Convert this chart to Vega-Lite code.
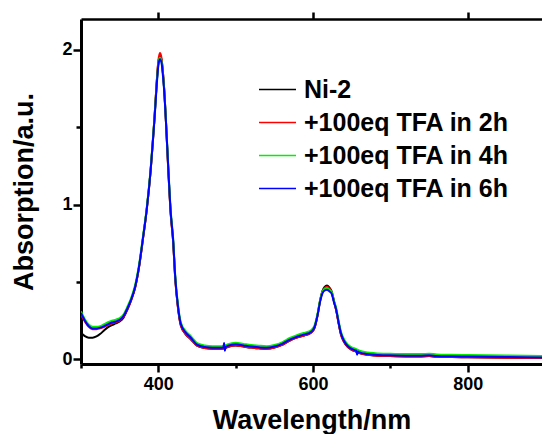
{
"$schema": "https://vega.github.io/schema/vega-lite/v6.json",
"width": 461, "height": 345,
"autosize": {"type": "none"},
"padding": {"left": 81, "top": 19, "right": 0, "bottom": 70},
"background": "white",
"config": {"view": {"stroke": null}, "font": "Liberation Sans"},
"data": {"values": [
{"s":"Ni-2","w":300,"a":0.17},{"s":"Ni-2","w":305,"a":0.15},{"s":"Ni-2","w":310,"a":0.14},{"s":"Ni-2","w":315,"a":0.14},{"s":"Ni-2","w":320,"a":0.148},{"s":"Ni-2","w":325,"a":0.165},{"s":"Ni-2","w":330,"a":0.188},{"s":"Ni-2","w":335,"a":0.208},{"s":"Ni-2","w":340,"a":0.222},{"s":"Ni-2","w":345,"a":0.232},{"s":"Ni-2","w":350,"a":0.245},{"s":"Ni-2","w":355,"a":0.27},{"s":"Ni-2","w":360,"a":0.322},{"s":"Ni-2","w":365,"a":0.385},{"s":"Ni-2","w":370,"a":0.465},{"s":"Ni-2","w":375,"a":0.595},{"s":"Ni-2","w":380,"a":0.775},{"s":"Ni-2","w":385,"a":0.97},{"s":"Ni-2","w":390,"a":1.22},{"s":"Ni-2","w":395,"a":1.56},{"s":"Ni-2","w":398,"a":1.8},{"s":"Ni-2","w":400,"a":1.92},{"s":"Ni-2","w":402,"a":1.96},{"s":"Ni-2","w":404,"a":1.94},{"s":"Ni-2","w":406,"a":1.85},{"s":"Ni-2","w":408,"a":1.71},{"s":"Ni-2","w":410,"a":1.52},{"s":"Ni-2","w":413,"a":1.21},{"s":"Ni-2","w":416,"a":0.94},{"s":"Ni-2","w":419,"a":0.77},{"s":"Ni-2","w":422,"a":0.51},{"s":"Ni-2","w":425,"a":0.35},{"s":"Ni-2","w":429,"a":0.22},{"s":"Ni-2","w":435,"a":0.165},{"s":"Ni-2","w":442,"a":0.13},{"s":"Ni-2","w":450,"a":0.088},{"s":"Ni-2","w":460,"a":0.073},{"s":"Ni-2","w":470,"a":0.068},{"s":"Ni-2","w":480,"a":0.068},{"s":"Ni-2","w":484,"a":0.07},{"s":"Ni-2","w":495,"a":0.088},{"s":"Ni-2","w":500,"a":0.09},{"s":"Ni-2","w":510,"a":0.083},{"s":"Ni-2","w":520,"a":0.076},{"s":"Ni-2","w":530,"a":0.071},{"s":"Ni-2","w":540,"a":0.068},{"s":"Ni-2","w":550,"a":0.076},{"s":"Ni-2","w":560,"a":0.094},{"s":"Ni-2","w":570,"a":0.122},{"s":"Ni-2","w":580,"a":0.142},{"s":"Ni-2","w":590,"a":0.157},{"s":"Ni-2","w":595,"a":0.165},{"s":"Ni-2","w":598,"a":0.175},{"s":"Ni-2","w":602,"a":0.205},{"s":"Ni-2","w":606,"a":0.29},{"s":"Ni-2","w":609,"a":0.378},{"s":"Ni-2","w":612,"a":0.44},{"s":"Ni-2","w":615,"a":0.468},{"s":"Ni-2","w":618,"a":0.477},{"s":"Ni-2","w":621,"a":0.465},{"s":"Ni-2","w":624,"a":0.44},{"s":"Ni-2","w":627,"a":0.378},{"s":"Ni-2","w":630,"a":0.315},{"s":"Ni-2","w":633,"a":0.235},{"s":"Ni-2","w":636,"a":0.163},{"s":"Ni-2","w":640,"a":0.113},{"s":"Ni-2","w":645,"a":0.079},{"s":"Ni-2","w":650,"a":0.062},{"s":"Ni-2","w":655,"a":0.052},{"s":"Ni-2","w":660,"a":0.04},{"s":"Ni-2","w":670,"a":0.03},{"s":"Ni-2","w":680,"a":0.025},{"s":"Ni-2","w":700,"a":0.021},{"s":"Ni-2","w":720,"a":0.019},{"s":"Ni-2","w":740,"a":0.019},{"s":"Ni-2","w":750,"a":0.021},{"s":"Ni-2","w":760,"a":0.017},{"s":"Ni-2","w":780,"a":0.015},{"s":"Ni-2","w":800,"a":0.013},{"s":"Ni-2","w":850,"a":0.01},{"s":"Ni-2","w":900,"a":0.008},
{"s":"+100eq TFA in 2h","w":300,"a":0.29},{"s":"+100eq TFA in 2h","w":305,"a":0.245},{"s":"+100eq TFA in 2h","w":310,"a":0.21},{"s":"+100eq TFA in 2h","w":315,"a":0.195},{"s":"+100eq TFA in 2h","w":320,"a":0.195},{"s":"+100eq TFA in 2h","w":325,"a":0.2},{"s":"+100eq TFA in 2h","w":330,"a":0.21},{"s":"+100eq TFA in 2h","w":335,"a":0.222},{"s":"+100eq TFA in 2h","w":340,"a":0.232},{"s":"+100eq TFA in 2h","w":345,"a":0.24},{"s":"+100eq TFA in 2h","w":350,"a":0.25},{"s":"+100eq TFA in 2h","w":355,"a":0.275},{"s":"+100eq TFA in 2h","w":360,"a":0.325},{"s":"+100eq TFA in 2h","w":365,"a":0.385},{"s":"+100eq TFA in 2h","w":370,"a":0.465},{"s":"+100eq TFA in 2h","w":375,"a":0.595},{"s":"+100eq TFA in 2h","w":380,"a":0.775},{"s":"+100eq TFA in 2h","w":385,"a":0.97},{"s":"+100eq TFA in 2h","w":390,"a":1.22},{"s":"+100eq TFA in 2h","w":395,"a":1.56},{"s":"+100eq TFA in 2h","w":398,"a":1.8},{"s":"+100eq TFA in 2h","w":400,"a":1.93},{"s":"+100eq TFA in 2h","w":402,"a":1.98},{"s":"+100eq TFA in 2h","w":404,"a":1.95},{"s":"+100eq TFA in 2h","w":406,"a":1.85},{"s":"+100eq TFA in 2h","w":408,"a":1.71},{"s":"+100eq TFA in 2h","w":410,"a":1.52},{"s":"+100eq TFA in 2h","w":413,"a":1.21},{"s":"+100eq TFA in 2h","w":416,"a":0.94},{"s":"+100eq TFA in 2h","w":419,"a":0.77},{"s":"+100eq TFA in 2h","w":422,"a":0.51},{"s":"+100eq TFA in 2h","w":425,"a":0.35},{"s":"+100eq TFA in 2h","w":429,"a":0.22},{"s":"+100eq TFA in 2h","w":435,"a":0.165},{"s":"+100eq TFA in 2h","w":442,"a":0.13},{"s":"+100eq TFA in 2h","w":450,"a":0.088},{"s":"+100eq TFA in 2h","w":460,"a":0.073},{"s":"+100eq TFA in 2h","w":470,"a":0.068},{"s":"+100eq TFA in 2h","w":480,"a":0.068},{"s":"+100eq TFA in 2h","w":484,"a":0.07},{"s":"+100eq TFA in 2h","w":495,"a":0.088},{"s":"+100eq TFA in 2h","w":500,"a":0.09},{"s":"+100eq TFA in 2h","w":510,"a":0.083},{"s":"+100eq TFA in 2h","w":520,"a":0.076},{"s":"+100eq TFA in 2h","w":530,"a":0.071},{"s":"+100eq TFA in 2h","w":540,"a":0.068},{"s":"+100eq TFA in 2h","w":550,"a":0.076},{"s":"+100eq TFA in 2h","w":560,"a":0.094},{"s":"+100eq TFA in 2h","w":570,"a":0.122},{"s":"+100eq TFA in 2h","w":580,"a":0.142},{"s":"+100eq TFA in 2h","w":590,"a":0.157},{"s":"+100eq TFA in 2h","w":595,"a":0.165},{"s":"+100eq TFA in 2h","w":598,"a":0.175},{"s":"+100eq TFA in 2h","w":602,"a":0.205},{"s":"+100eq TFA in 2h","w":606,"a":0.29},{"s":"+100eq TFA in 2h","w":609,"a":0.375},{"s":"+100eq TFA in 2h","w":612,"a":0.435},{"s":"+100eq TFA in 2h","w":615,"a":0.462},{"s":"+100eq TFA in 2h","w":618,"a":0.47},{"s":"+100eq TFA in 2h","w":621,"a":0.458},{"s":"+100eq TFA in 2h","w":624,"a":0.435},{"s":"+100eq TFA in 2h","w":627,"a":0.375},{"s":"+100eq TFA in 2h","w":630,"a":0.315},{"s":"+100eq TFA in 2h","w":633,"a":0.235},{"s":"+100eq TFA in 2h","w":636,"a":0.163},{"s":"+100eq TFA in 2h","w":640,"a":0.113},{"s":"+100eq TFA in 2h","w":645,"a":0.079},{"s":"+100eq TFA in 2h","w":650,"a":0.062},{"s":"+100eq TFA in 2h","w":655,"a":0.052},{"s":"+100eq TFA in 2h","w":660,"a":0.04},{"s":"+100eq TFA in 2h","w":670,"a":0.03},{"s":"+100eq TFA in 2h","w":680,"a":0.025},{"s":"+100eq TFA in 2h","w":700,"a":0.021},{"s":"+100eq TFA in 2h","w":720,"a":0.019},{"s":"+100eq TFA in 2h","w":740,"a":0.019},{"s":"+100eq TFA in 2h","w":750,"a":0.021},{"s":"+100eq TFA in 2h","w":760,"a":0.017},{"s":"+100eq TFA in 2h","w":780,"a":0.015},{"s":"+100eq TFA in 2h","w":800,"a":0.013},{"s":"+100eq TFA in 2h","w":850,"a":0.01},{"s":"+100eq TFA in 2h","w":900,"a":0.008},
{"s":"+100eq TFA in 4h","w":300,"a":0.31},{"s":"+100eq TFA in 4h","w":305,"a":0.26},{"s":"+100eq TFA in 4h","w":310,"a":0.225},{"s":"+100eq TFA in 4h","w":315,"a":0.21},{"s":"+100eq TFA in 4h","w":320,"a":0.21},{"s":"+100eq TFA in 4h","w":325,"a":0.215},{"s":"+100eq TFA in 4h","w":330,"a":0.227},{"s":"+100eq TFA in 4h","w":335,"a":0.24},{"s":"+100eq TFA in 4h","w":340,"a":0.25},{"s":"+100eq TFA in 4h","w":345,"a":0.257},{"s":"+100eq TFA in 4h","w":350,"a":0.266},{"s":"+100eq TFA in 4h","w":355,"a":0.29},{"s":"+100eq TFA in 4h","w":360,"a":0.34},{"s":"+100eq TFA in 4h","w":365,"a":0.4},{"s":"+100eq TFA in 4h","w":370,"a":0.48},{"s":"+100eq TFA in 4h","w":375,"a":0.61},{"s":"+100eq TFA in 4h","w":380,"a":0.79},{"s":"+100eq TFA in 4h","w":385,"a":0.98},{"s":"+100eq TFA in 4h","w":390,"a":1.23},{"s":"+100eq TFA in 4h","w":395,"a":1.56},{"s":"+100eq TFA in 4h","w":398,"a":1.79},{"s":"+100eq TFA in 4h","w":400,"a":1.91},{"s":"+100eq TFA in 4h","w":402,"a":1.95},{"s":"+100eq TFA in 4h","w":404,"a":1.93},{"s":"+100eq TFA in 4h","w":406,"a":1.84},{"s":"+100eq TFA in 4h","w":408,"a":1.71},{"s":"+100eq TFA in 4h","w":410,"a":1.53},{"s":"+100eq TFA in 4h","w":413,"a":1.23},{"s":"+100eq TFA in 4h","w":416,"a":0.96},{"s":"+100eq TFA in 4h","w":419,"a":0.79},{"s":"+100eq TFA in 4h","w":422,"a":0.53},{"s":"+100eq TFA in 4h","w":425,"a":0.37},{"s":"+100eq TFA in 4h","w":429,"a":0.24},{"s":"+100eq TFA in 4h","w":435,"a":0.185},{"s":"+100eq TFA in 4h","w":442,"a":0.15},{"s":"+100eq TFA in 4h","w":450,"a":0.105},{"s":"+100eq TFA in 4h","w":460,"a":0.09},{"s":"+100eq TFA in 4h","w":470,"a":0.085},{"s":"+100eq TFA in 4h","w":480,"a":0.085},{"s":"+100eq TFA in 4h","w":484,"a":0.087},{"s":"+100eq TFA in 4h","w":495,"a":0.105},{"s":"+100eq TFA in 4h","w":500,"a":0.107},{"s":"+100eq TFA in 4h","w":510,"a":0.1},{"s":"+100eq TFA in 4h","w":520,"a":0.093},{"s":"+100eq TFA in 4h","w":530,"a":0.088},{"s":"+100eq TFA in 4h","w":540,"a":0.085},{"s":"+100eq TFA in 4h","w":550,"a":0.093},{"s":"+100eq TFA in 4h","w":560,"a":0.11},{"s":"+100eq TFA in 4h","w":570,"a":0.138},{"s":"+100eq TFA in 4h","w":580,"a":0.158},{"s":"+100eq TFA in 4h","w":590,"a":0.173},{"s":"+100eq TFA in 4h","w":595,"a":0.18},{"s":"+100eq TFA in 4h","w":598,"a":0.19},{"s":"+100eq TFA in 4h","w":602,"a":0.22},{"s":"+100eq TFA in 4h","w":606,"a":0.3},{"s":"+100eq TFA in 4h","w":609,"a":0.38},{"s":"+100eq TFA in 4h","w":612,"a":0.435},{"s":"+100eq TFA in 4h","w":615,"a":0.455},{"s":"+100eq TFA in 4h","w":618,"a":0.46},{"s":"+100eq TFA in 4h","w":621,"a":0.45},{"s":"+100eq TFA in 4h","w":624,"a":0.435},{"s":"+100eq TFA in 4h","w":627,"a":0.38},{"s":"+100eq TFA in 4h","w":630,"a":0.33},{"s":"+100eq TFA in 4h","w":633,"a":0.25},{"s":"+100eq TFA in 4h","w":636,"a":0.18},{"s":"+100eq TFA in 4h","w":640,"a":0.13},{"s":"+100eq TFA in 4h","w":645,"a":0.095},{"s":"+100eq TFA in 4h","w":650,"a":0.078},{"s":"+100eq TFA in 4h","w":655,"a":0.068},{"s":"+100eq TFA in 4h","w":660,"a":0.056},{"s":"+100eq TFA in 4h","w":670,"a":0.045},{"s":"+100eq TFA in 4h","w":680,"a":0.04},{"s":"+100eq TFA in 4h","w":700,"a":0.036},{"s":"+100eq TFA in 4h","w":720,"a":0.034},{"s":"+100eq TFA in 4h","w":740,"a":0.034},{"s":"+100eq TFA in 4h","w":750,"a":0.036},{"s":"+100eq TFA in 4h","w":760,"a":0.032},{"s":"+100eq TFA in 4h","w":780,"a":0.03},{"s":"+100eq TFA in 4h","w":800,"a":0.028},{"s":"+100eq TFA in 4h","w":850,"a":0.025},{"s":"+100eq TFA in 4h","w":900,"a":0.022},
{"s":"+100eq TFA in 6h","w":300,"a":0.3},{"s":"+100eq TFA in 6h","w":305,"a":0.25},{"s":"+100eq TFA in 6h","w":310,"a":0.215},{"s":"+100eq TFA in 6h","w":315,"a":0.2},{"s":"+100eq TFA in 6h","w":320,"a":0.2},{"s":"+100eq TFA in 6h","w":325,"a":0.205},{"s":"+100eq TFA in 6h","w":330,"a":0.215},{"s":"+100eq TFA in 6h","w":335,"a":0.228},{"s":"+100eq TFA in 6h","w":340,"a":0.238},{"s":"+100eq TFA in 6h","w":345,"a":0.245},{"s":"+100eq TFA in 6h","w":350,"a":0.255},{"s":"+100eq TFA in 6h","w":355,"a":0.28},{"s":"+100eq TFA in 6h","w":360,"a":0.33},{"s":"+100eq TFA in 6h","w":365,"a":0.39},{"s":"+100eq TFA in 6h","w":370,"a":0.47},{"s":"+100eq TFA in 6h","w":375,"a":0.6},{"s":"+100eq TFA in 6h","w":380,"a":0.78},{"s":"+100eq TFA in 6h","w":385,"a":0.97},{"s":"+100eq TFA in 6h","w":390,"a":1.22},{"s":"+100eq TFA in 6h","w":395,"a":1.55},{"s":"+100eq TFA in 6h","w":398,"a":1.78},{"s":"+100eq TFA in 6h","w":400,"a":1.9},{"s":"+100eq TFA in 6h","w":402,"a":1.94},{"s":"+100eq TFA in 6h","w":404,"a":1.92},{"s":"+100eq TFA in 6h","w":406,"a":1.83},{"s":"+100eq TFA in 6h","w":408,"a":1.7},{"s":"+100eq TFA in 6h","w":410,"a":1.52},{"s":"+100eq TFA in 6h","w":413,"a":1.22},{"s":"+100eq TFA in 6h","w":416,"a":0.95},{"s":"+100eq TFA in 6h","w":419,"a":0.78},{"s":"+100eq TFA in 6h","w":422,"a":0.52},{"s":"+100eq TFA in 6h","w":425,"a":0.36},{"s":"+100eq TFA in 6h","w":429,"a":0.23},{"s":"+100eq TFA in 6h","w":435,"a":0.175},{"s":"+100eq TFA in 6h","w":442,"a":0.14},{"s":"+100eq TFA in 6h","w":450,"a":0.095},{"s":"+100eq TFA in 6h","w":460,"a":0.08},{"s":"+100eq TFA in 6h","w":470,"a":0.075},{"s":"+100eq TFA in 6h","w":480,"a":0.075},{"s":"+100eq TFA in 6h","w":484,"a":0.077},{"s":"+100eq TFA in 6h","w":485,"a":0.105},{"s":"+100eq TFA in 6h","w":486,"a":0.055},{"s":"+100eq TFA in 6h","w":487,"a":0.08},{"s":"+100eq TFA in 6h","w":495,"a":0.095},{"s":"+100eq TFA in 6h","w":500,"a":0.097},{"s":"+100eq TFA in 6h","w":510,"a":0.09},{"s":"+100eq TFA in 6h","w":520,"a":0.083},{"s":"+100eq TFA in 6h","w":530,"a":0.078},{"s":"+100eq TFA in 6h","w":540,"a":0.075},{"s":"+100eq TFA in 6h","w":550,"a":0.083},{"s":"+100eq TFA in 6h","w":560,"a":0.1},{"s":"+100eq TFA in 6h","w":570,"a":0.128},{"s":"+100eq TFA in 6h","w":580,"a":0.148},{"s":"+100eq TFA in 6h","w":590,"a":0.163},{"s":"+100eq TFA in 6h","w":595,"a":0.17},{"s":"+100eq TFA in 6h","w":598,"a":0.18},{"s":"+100eq TFA in 6h","w":602,"a":0.21},{"s":"+100eq TFA in 6h","w":606,"a":0.29},{"s":"+100eq TFA in 6h","w":609,"a":0.37},{"s":"+100eq TFA in 6h","w":612,"a":0.425},{"s":"+100eq TFA in 6h","w":615,"a":0.445},{"s":"+100eq TFA in 6h","w":618,"a":0.45},{"s":"+100eq TFA in 6h","w":621,"a":0.44},{"s":"+100eq TFA in 6h","w":624,"a":0.425},{"s":"+100eq TFA in 6h","w":627,"a":0.37},{"s":"+100eq TFA in 6h","w":630,"a":0.32},{"s":"+100eq TFA in 6h","w":633,"a":0.24},{"s":"+100eq TFA in 6h","w":636,"a":0.17},{"s":"+100eq TFA in 6h","w":640,"a":0.12},{"s":"+100eq TFA in 6h","w":645,"a":0.085},{"s":"+100eq TFA in 6h","w":650,"a":0.068},{"s":"+100eq TFA in 6h","w":655,"a":0.058},{"s":"+100eq TFA in 6h","w":656,"a":0.055},{"s":"+100eq TFA in 6h","w":657,"a":0.03},{"s":"+100eq TFA in 6h","w":658,"a":0.05},{"s":"+100eq TFA in 6h","w":660,"a":0.045},{"s":"+100eq TFA in 6h","w":670,"a":0.035},{"s":"+100eq TFA in 6h","w":680,"a":0.03},{"s":"+100eq TFA in 6h","w":700,"a":0.026},{"s":"+100eq TFA in 6h","w":720,"a":0.024},{"s":"+100eq TFA in 6h","w":740,"a":0.024},{"s":"+100eq TFA in 6h","w":750,"a":0.026},{"s":"+100eq TFA in 6h","w":760,"a":0.022},{"s":"+100eq TFA in 6h","w":780,"a":0.02},{"s":"+100eq TFA in 6h","w":800,"a":0.018},{"s":"+100eq TFA in 6h","w":850,"a":0.015},{"s":"+100eq TFA in 6h","w":900,"a":0.012}
]},
"layer": [
{
"mark": {"type": "line", "strokeWidth": 2, "clip": true, "interpolate": "monotone"},
"encoding": {
"x": {"field": "w", "type": "quantitative",
 "scale": {"domain": [300, 896], "nice": false, "zero": false},
 "axis": {"orient": "bottom", "values": [300, 400, 500, 600, 700, 800],
  "labelExpr": "datum.value % 200 == 0 ? datum.label : ''",
  "title": "Wavelength/nm", "grid": false,
  "domainColor": "black", "domainWidth": 3, "tickColor": "black", "tickWidth": 2.5,
  "tickSize": {"condition": {"test": "datum.value % 200 == 0", "value": 8}, "value": 4},
  "labelFontSize": 18, "labelFontWeight": "bold", "labelColor": "black", "labelPadding": 3,
  "titleFontSize": 27, "titleFontWeight": "bold", "titleColor": "black", "titlePadding": 14}},
"y": {"field": "a", "type": "quantitative",
 "scale": {"domain": [-0.03, 2.2], "nice": false, "zero": false},
 "axis": {"orient": "left", "values": [0, 0.5, 1, 1.5, 2], "format": "~g",
  "labelExpr": "datum.value % 1 == 0 ? datum.label : ''",
  "title": "Absorption/a.u.", "grid": false,
  "domainColor": "black", "domainWidth": 3, "tickColor": "black", "tickWidth": 2.5,
  "tickSize": {"condition": {"test": "datum.value % 1 == 0", "value": 8}, "value": 5},
  "labelFontSize": 18, "labelFontWeight": "bold", "labelColor": "black", "labelPadding": 1,
  "titleFontSize": 27, "titleFontWeight": "bold", "titleColor": "black", "titlePadding": 23}},
"color": {"field": "s", "type": "nominal",
 "scale": {"domain": ["Ni-2", "+100eq TFA in 2h", "+100eq TFA in 4h", "+100eq TFA in 6h"],
  "range": ["#000000", "#ff0000", "#00ee00", "#0000ff"]},
 "legend": {"orient": "none", "legendX": 177, "legendY": 51, "title": null,
  "symbolType": "stroke", "symbolSize": 1369, "symbolStrokeWidth": 1.5,
  "labelFontSize": 25, "labelFontWeight": "bold", "labelColor": "black", "labelOffset": 7,
  "labelLimit": 400, "rowPadding": -5}}
}
},
{
"mark": {"type": "line", "opacity": 0, "clip": true},
"encoding": {
"x": {"field": "w", "type": "quantitative",
 "axis": {"orient": "top", "values": [400, 600, 800], "labels": false, "title": null, "grid": false,
  "domainColor": "black", "domainWidth": 2.5, "tickColor": "black", "tickWidth": 2.5, "tickSize": 7}},
"y": {"field": "a", "type": "quantitative"}
}
}
],
"resolve": {"axis": {"x": "independent"}}
}
